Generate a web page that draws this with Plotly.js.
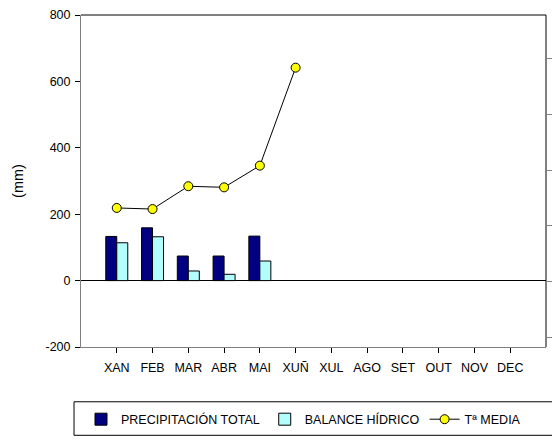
<!DOCTYPE html>
<html>
<head>
<meta charset="utf-8">
<script src="https://cdn.plot.ly/plotly-3.0.1.min.js"></script>
<style>html,body{margin:0;padding:0;background:#fff;}#chart{width:552px;height:440px;}</style>
</head>
<body>
<div id="chart"></div>
<script>
const months = ['XAN','FEB','MAR','ABR','MAI','XUÑ','XUL','AGO','SET','OUT','NOV','DEC'];
const precipitacion = [133, 159, 74, 74, 134, null, null, null, null, null, null, null];
const balance = [114, 132, 29, 19, 59, null, null, null, null, null, null, null];
const tMedia = [6.6, 6.5, 8.55, 8.45, 10.4, 19.2, null, null, null, null, null, null];
const leftTicks = [-200, 0, 200, 400, 600, 800];
const leftTickText = ['-200', '0', '200', '400', '600', '800'];
const rightTicks = [-5, 0, 5, 10, 15, 20];

const FONT = 'Liberation Sans, Arial, sans-serif';

const traces = [
  {type:'bar', name:'PRECIPITACIÓN TOTAL', x:months, y:precipitacion,
   marker:{color:'#000080', line:{color:'#000000', width:1}}},
  {type:'bar', name:'BALANCE HÍDRICO', x:months, y:balance,
   marker:{color:'#b4fdfd', line:{color:'#000000', width:1}}},
  {type:'scatter', mode:'lines+markers', name:'Tª MEDIA', x:months, y:tMedia, yaxis:'y2',
   line:{color:'#000000', width:1}, connectgaps:false,
   marker:{color:'#ffff00', size:9, line:{color:'#000000', width:1}}}
];

const layout = {
  width:552, height:440,
  margin:{l:81, r:6, t:15, b:91, pad:0},
  paper_bgcolor:'#ffffff', plot_bgcolor:'#ffffff',
  font:{family:FONT, size:12.5, color:'#000000'},
  barmode:'group', bargap:0.385, bargroupgap:0,
  showlegend:true,
  legend:{orientation:'h', x:0.0, y:-0.2186, xanchor:'left', yanchor:'middle',
          bgcolor:'rgba(0,0,0,0)', borderwidth:0, font:{size:12.5, family:FONT}, traceorder:'normal'},
  xaxis:{type:'category', range:[-1, 12], showgrid:false, zeroline:false,
         showline:true, linecolor:'#808080', linewidth:1,
         ticks:'outside', ticklen:5, tickcolor:'#000000', tickwidth:1,
         tickfont:{size:12.5}, ticklabelstandoff:4, fixedrange:true},
  yaxis:{range:[-200, 800], tickvals:leftTicks, ticktext:leftTickText, showgrid:false,
         zeroline:true, zerolinecolor:'#000000', zerolinewidth:1,
         showline:true, linecolor:'#808080', linewidth:1,
         ticks:'outside', ticklen:5, tickcolor:'#000000', tickwidth:1,
         tickfont:{size:12.5}, ticklabelstandoff:2,
         title:{text:'(mm)', font:{size:14.5}, standoff:18}},
  yaxis2:{overlaying:'y', side:'right', range:[-5.89, 23.93], tickvals:rightTicks,
          showgrid:false, zeroline:false, showline:false, showticklabels:false,
          ticks:'outside', ticklen:5, tickcolor:'#808080', tickwidth:1},
  shapes:[
    {type:'line', xref:'paper', yref:'paper', x0:0, x1:1, y0:1, y1:1, line:{color:'#000000', width:1}},
    {type:'line', xref:'paper', yref:'paper', x0:1, x1:1, y0:0, y1:1, line:{color:'#000000', width:1}},
    {type:'rect', xref:'paper', yref:'paper', x0:-0.015, x1:1.05, y0:-0.266, y1:-0.165,
     line:{color:'#000000', width:1}, fillcolor:'rgba(0,0,0,0)'}
  ]
};

Plotly.newPlot('chart', traces, layout, {displayModeBar:false, staticPlot:true});
</script>
</body>
</html>
